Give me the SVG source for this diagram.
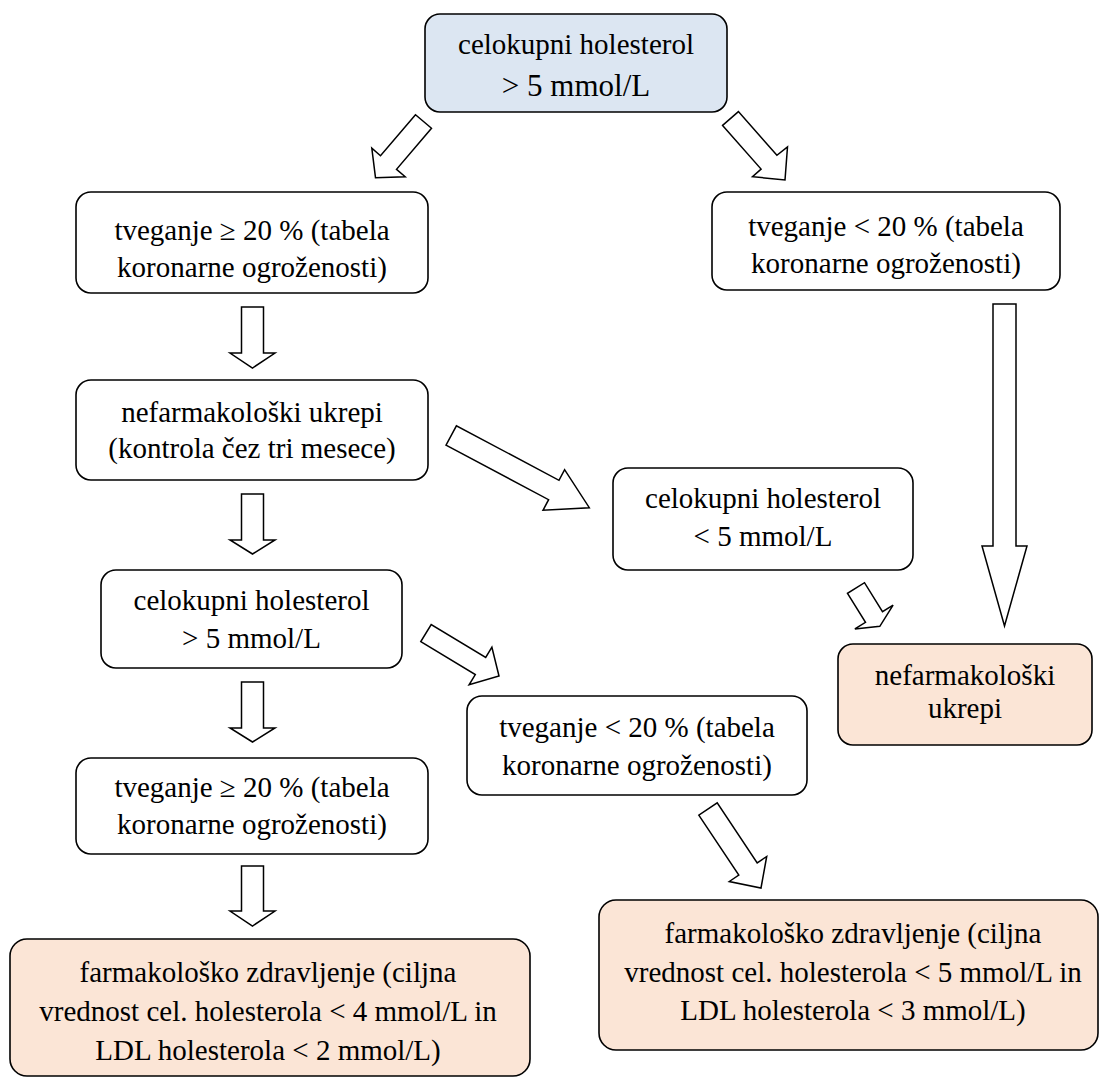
<svg xmlns="http://www.w3.org/2000/svg" width="1102" height="1079" viewBox="0 0 1102 1079">
<style>
.box{stroke:#000;stroke-width:1.6}
.plain{fill:#ffffff}
.blue{fill:#dce6f2}
.peach{fill:#fbe5d6}
.arr{fill:#ffffff;stroke:#000;stroke-width:1.5;stroke-linejoin:miter}
</style>
<rect width="1102" height="1079" fill="#ffffff"/>
<g id="connectors">
<polygon class="arr" points="415.5,114.7 380.5,155.7 371.8,148.2 375.5,177.7 405.2,176.8 396.5,169.3 431.5,128.3"/>
<polygon class="arr" points="722.6,125.4 761.1,169.1 752.5,176.7 785,180 787.5,146.9 776.9,155.3 738.4,111.6"/>
<polygon class="arr" points="241.5,307 263.5,307 263.5,353 275,353 252.5,368 230,353 241.5,353"/>
<polygon class="arr" points="241.5,494 263.5,494 263.5,540 275,540 252.5,554 230,540 241.5,540"/>
<polygon class="arr" points="241.5,682 263.5,682 263.5,728 275,728 252.5,742 230,728 241.5,728"/>
<polygon class="arr" points="241.5,866 263.5,866 263.5,911 275,911 252.5,926 230,911 241.5,911"/>
<polygon class="arr" points="993,304 1016,304 1016,546 1027,546 1004.5,626 982,546 993,546"/>
<polygon class="arr" points="446.0,445.2 548.6,499.7 543.0,510.3 589.3,507.7 564.6,469.7 559.0,480.3 456.4,425.8"/>
<polygon class="arr" points="420.8,641.6 475.3,674.6 469.1,684.8 499,676 491.9,647.2 485.7,657.5 431.2,624.5"/>
<polygon class="arr" points="847.5,593.3 865.5,622.3 854.9,628.9 879.8,626.3 893.1,605.1 882.5,611.7 864.5,582.7"/>
<polygon class="arr" points="698.8,815.1 738.8,875.1 729.3,881.5 761,888 766.7,856.5 757.2,862.9 717.2,802.9"/>
</g>
<g font-family="Liberation Serif, Times New Roman, serif" font-size="29" fill="#000" text-anchor="middle">
<g id="n1">
<rect class="box blue" x="425" y="14" width="302" height="98" rx="15"/>
<text x="576" y="54" fill="#000">celokupni holesterol</text>
<text x="576" y="96" font-size="31" fill="#000">&gt; 5 mmol/L</text>
</g>
<g id="n2">
<rect class="box plain" x="76" y="192" width="352" height="101" rx="15"/>
<text x="252" y="240" fill="#000">tveganje ≥ 20 % (tabela</text>
<text x="252" y="277" fill="#000">koronarne ogroženosti)</text>
</g>
<g id="n3">
<rect class="box plain" x="712" y="192" width="348" height="98" rx="15"/>
<text x="886" y="236" fill="#000">tveganje &lt; 20 % (tabela</text>
<text x="886" y="273" fill="#000">koronarne ogroženosti)</text>
</g>
<g id="n4">
<rect class="box plain" x="76" y="380" width="352" height="100" rx="15"/>
<text x="252" y="422" fill="#000">nefarmakološki ukrepi</text>
<text x="252" y="458" fill="#000">(kontrola čez tri mesece)</text>
</g>
<g id="n5">
<rect class="box plain" x="613" y="468" width="300" height="102" rx="15"/>
<text x="763" y="508" fill="#000">celokupni holesterol</text>
<text x="763" y="546" fill="#000">&lt; 5 mmol/L</text>
</g>
<g id="n6">
<rect class="box plain" x="101" y="570" width="301" height="98" rx="15"/>
<text x="251.5" y="610" fill="#000">celokupni holesterol</text>
<text x="251.5" y="648" fill="#000">&gt; 5 mmol/L</text>
</g>
<g id="n7">
<rect class="box peach" x="838" y="644" width="254" height="101" rx="15"/>
<text x="965" y="685" fill="#000">nefarmakološki</text>
<text x="965" y="718" fill="#000">ukrepi</text>
</g>
<g id="n8">
<rect class="box plain" x="467" y="696" width="340" height="99" rx="15"/>
<text x="637" y="737" fill="#000">tveganje &lt; 20 % (tabela</text>
<text x="637" y="775" fill="#000">koronarne ogroženosti)</text>
</g>
<g id="n9">
<rect class="box plain" x="76" y="758" width="352" height="96" rx="15"/>
<text x="252" y="797" fill="#000">tveganje ≥ 20 % (tabela</text>
<text x="252" y="834" fill="#000">koronarne ogroženosti)</text>
</g>
<g id="n10">
<rect class="box peach" x="10" y="939" width="520" height="137" rx="17"/>
<text x="268" y="982" fill="#000">farmakološko zdravljenje (ciljna</text>
<text x="268" y="1021" fill="#000">vrednost cel. holesterola &lt; 4 mmol/L in</text>
<text x="268" y="1060" fill="#000">LDL holesterola &lt; 2 mmol/L)</text>
</g>
<g id="n11">
<rect class="box peach" x="599" y="900" width="499" height="150" rx="17"/>
<text x="853" y="943" fill="#000">farmakološko zdravljenje (ciljna</text>
<text x="853" y="982" fill="#000">vrednost cel. holesterola &lt; 5 mmol/L in</text>
<text x="853" y="1020" fill="#000">LDL holesterola &lt; 3 mmol/L)</text>
</g>
</g>
</svg>
